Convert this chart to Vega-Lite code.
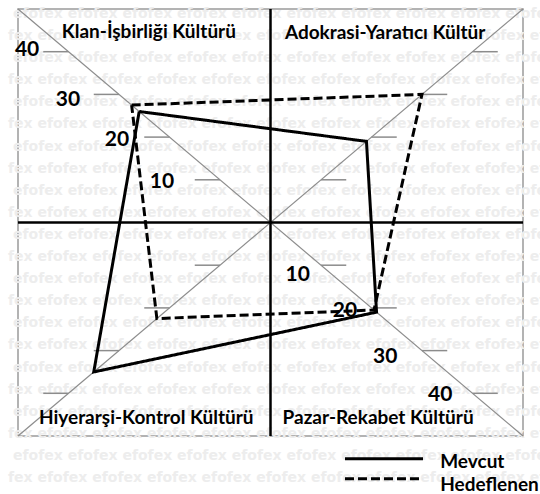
{
  "$schema": "https://vega.github.io/schema/vega-lite/v6.json",
  "width": 505,
  "height": 427,
  "autosize": "none",
  "padding": {"left": 18, "top": 9, "right": 17, "bottom": 58},
  "background": "white",
  "config": {"view": {"stroke": "#9a9a9a", "strokeWidth": 1.5}},
  "encoding": {
    "x": {"field": "x", "type": "quantitative", "scale": {"domain": [-50, 50], "nice": false, "zero": false}, "axis": null},
    "y": {"field": "y", "type": "quantitative", "scale": {"domain": [-50, 50], "nice": false, "zero": false}, "axis": null}
  },
  "layer": [
    {
      "description": "efofex watermark rows",
      "data": {"values": [
        {"x": -50.99, "y": 48.83, "t": "efofex efofex efofex efofex efofex efofex efofex efofex efofex efofex"},
        {"x": -51.98, "y": 43.66, "t": "fex efofex efofex efofex efofex efofex efofex efofex efofex efofex efofex"},
        {"x": -50.99, "y": 38.48, "t": "efofex efofex efofex efofex efofex efofex efofex efofex efofex efofex"},
        {"x": -51.98, "y": 33.31, "t": "fex efofex efofex efofex efofex efofex efofex efofex efofex efofex efofex"},
        {"x": -50.99, "y": 28.13, "t": "efofex efofex efofex efofex efofex efofex efofex efofex efofex efofex"},
        {"x": -51.98, "y": 22.96, "t": "fex efofex efofex efofex efofex efofex efofex efofex efofex efofex efofex"},
        {"x": -50.99, "y": 17.78, "t": "efofex efofex efofex efofex efofex efofex efofex efofex efofex efofex"},
        {"x": -51.98, "y": 12.61, "t": "fex efofex efofex efofex efofex efofex efofex efofex efofex efofex efofex"},
        {"x": -50.99, "y": 7.43, "t": "efofex efofex efofex efofex efofex efofex efofex efofex efofex efofex"},
        {"x": -51.98, "y": 2.26, "t": "fex efofex efofex efofex efofex efofex efofex efofex efofex efofex efofex"},
        {"x": -50.99, "y": -2.92, "t": "efofex efofex efofex efofex efofex efofex efofex efofex efofex efofex"},
        {"x": -51.98, "y": -8.09, "t": "fex efofex efofex efofex efofex efofex efofex efofex efofex efofex efofex"},
        {"x": -50.99, "y": -13.27, "t": "efofex efofex efofex efofex efofex efofex efofex efofex efofex efofex"},
        {"x": -51.98, "y": -18.44, "t": "fex efofex efofex efofex efofex efofex efofex efofex efofex efofex efofex"},
        {"x": -50.99, "y": -23.62, "t": "efofex efofex efofex efofex efofex efofex efofex efofex efofex efofex"},
        {"x": -51.98, "y": -28.79, "t": "fex efofex efofex efofex efofex efofex efofex efofex efofex efofex efofex"},
        {"x": -50.99, "y": -33.97, "t": "efofex efofex efofex efofex efofex efofex efofex efofex efofex efofex"},
        {"x": -51.98, "y": -39.14, "t": "fex efofex efofex efofex efofex efofex efofex efofex efofex efofex efofex"},
        {"x": -50.99, "y": -44.32, "t": "efofex efofex efofex efofex efofex efofex efofex efofex efofex efofex"},
        {"x": -51.98, "y": -49.49, "t": "fex efofex efofex efofex efofex efofex efofex efofex efofex efofex efofex"},
        {"x": -50.99, "y": -54.67, "t": "efofex efofex efofex efofex efofex efofex efofex efofex efofex efofex"},
        {"x": -51.98, "y": -59.84, "t": "fex efofex efofex efofex efofex efofex efofex efofex efofex efofex efofex"}
      ]},
      "mark": {"type": "text", "align": "left", "baseline": "middle", "font": "DejaVu Sans", "fontWeight": "bold", "fontSize": 14, "color": "#ededed"},
      "encoding": {"text": {"field": "t"}}
    },
    {
      "description": "corner-to-corner diagonals",
      "data": {"values": [
        {"x": -50, "y": 50, "x2": 50, "y2": -50},
        {"x": -50, "y": -50, "x2": 50, "y2": 50}
      ]},
      "mark": {"type": "rule", "color": "#8c8c8c", "strokeWidth": 1.2},
      "encoding": {"x2": {"field": "x2"}, "y2": {"field": "y2"}}
    },
    {
      "description": "tick marks at 10, 20, 30, 40 on each diagonal",
      "data": {"values": [
        {"x": -10, "x2": -15, "y": 10}, {"x": -20, "x2": -25, "y": 20}, {"x": -30, "x2": -35, "y": 30}, {"x": -40, "x2": -45, "y": 40},
        {"x": 10, "x2": 15, "y": 10}, {"x": 20, "x2": 25, "y": 20}, {"x": 30, "x2": 35, "y": 30}, {"x": 40, "x2": 45, "y": 40},
        {"x": -10, "x2": -15, "y": -10}, {"x": -20, "x2": -25, "y": -20}, {"x": -30, "x2": -35, "y": -30}, {"x": -40, "x2": -45, "y": -40},
        {"x": 10, "x2": 15, "y": -10}, {"x": 20, "x2": 25, "y": -20}, {"x": 30, "x2": 35, "y": -30}, {"x": 40, "x2": 45, "y": -40}
      ]},
      "mark": {"type": "rule", "color": "#8c8c8c", "strokeWidth": 1.5},
      "encoding": {"x2": {"field": "x2"}}
    },
    {
      "description": "central cross",
      "data": {"values": [
        {"x": -50, "y": 0, "x2": 50, "y2": 0},
        {"x": 0, "y": -50, "x2": 0, "y2": 50}
      ]},
      "mark": {"type": "rule", "color": "#000000", "strokeWidth": 2.5},
      "encoding": {"x2": {"field": "x2"}, "y2": {"field": "y2"}}
    },
    {
      "description": "culture profiles",
      "data": {"values": [
        {"seri": "Mevcut", "kultur": "Klan", "sira": 1, "x": -26, "y": 26},
        {"seri": "Mevcut", "kultur": "Adokrasi", "sira": 2, "x": 19, "y": 19},
        {"seri": "Mevcut", "kultur": "Pazar", "sira": 3, "x": 21, "y": -21},
        {"seri": "Mevcut", "kultur": "Hiyerarşi", "sira": 4, "x": -35, "y": -35},
        {"seri": "Mevcut", "kultur": "Klan", "sira": 5, "x": -26, "y": 26},
        {"seri": "Hedeflenen", "kultur": "Klan", "sira": 1, "x": -27.5, "y": 27.5},
        {"seri": "Hedeflenen", "kultur": "Adokrasi", "sira": 2, "x": 30, "y": 30},
        {"seri": "Hedeflenen", "kultur": "Pazar", "sira": 3, "x": 20.5, "y": -20.5},
        {"seri": "Hedeflenen", "kultur": "Hiyerarşi", "sira": 4, "x": -22.5, "y": -22.5},
        {"seri": "Hedeflenen", "kultur": "Klan", "sira": 5, "x": -27.5, "y": 27.5}
      ]},
      "mark": {"type": "line", "color": "#000000", "strokeWidth": 3, "strokeJoin": "miter", "strokeCap": "butt"},
      "encoding": {
        "order": {"field": "sira", "type": "quantitative"},
        "strokeDash": {"field": "seri", "type": "nominal", "scale": {"domain": ["Mevcut", "Hedeflenen"], "range": [[1, 0], [9, 4]]}, "legend": null}
      }
    },
    {
      "description": "scale values along the diagonals",
      "data": {"values": [
        {"t": "40", "x": -48.2, "y": 39.1}, {"t": "30", "x": -40.1, "y": 27.4},
        {"t": "20", "x": -30.4, "y": 18.0}, {"t": "10", "x": -21.5, "y": 8.0},
        {"t": "10", "x": 5.4, "y": -13.6}, {"t": "20", "x": 14.75, "y": -22.2},
        {"t": "30", "x": 22.7, "y": -33.0}, {"t": "40", "x": 33.6, "y": -41.7}
      ]},
      "mark": {"type": "text", "align": "center", "baseline": "alphabetic", "font": "Lato", "fontWeight": "bold", "fontSize": 21, "color": "#000000"},
      "encoding": {"text": {"field": "t"}}
    },
    {
      "description": "quadrant names",
      "data": {"values": [
        {"t": "Klan-İşbirliği Kültürü", "x": -24.1, "y": 43.1},
        {"t": "Adokrasi-Yaratıcı Kültür", "x": 22.7, "y": 42.9},
        {"t": "Hiyerarşi-Kontrol Kültürü", "x": -24.6, "y": -47.3},
        {"t": "Pazar-Rekabet Kültürü", "x": 21.3, "y": -47.3}
      ]},
      "mark": {"type": "text", "align": "center", "baseline": "alphabetic", "font": "Lato", "fontWeight": "bold", "fontSize": 19, "color": "#000000"},
      "encoding": {"text": {"field": "t"}}
    },
    {
      "description": "legend keys",
      "data": {"values": [
        {"seri": "Mevcut", "x": 14.75, "x2": 30.2, "y": -55.3},
        {"seri": "Hedeflenen", "x": 14.75, "x2": 30.2, "y": -60.0}
      ]},
      "mark": {"type": "rule", "color": "#000000", "strokeWidth": 3, "strokeCap": "butt"},
      "encoding": {
        "x2": {"field": "x2"},
        "strokeDash": {"field": "seri", "type": "nominal", "scale": {"domain": ["Mevcut", "Hedeflenen"], "range": [[1, 0], [9, 4]]}, "legend": null}
      }
    },
    {
      "description": "legend labels",
      "data": {"values": [
        {"t": "Mevcut", "x": 33.6, "y": -57.4},
        {"t": "Hedeflenen", "x": 33.6, "y": -62.8}
      ]},
      "mark": {"type": "text", "align": "left", "baseline": "alphabetic", "font": "Lato", "fontWeight": "bold", "fontSize": 19, "color": "#000000"},
      "encoding": {"text": {"field": "t"}}
    }
  ]
}
